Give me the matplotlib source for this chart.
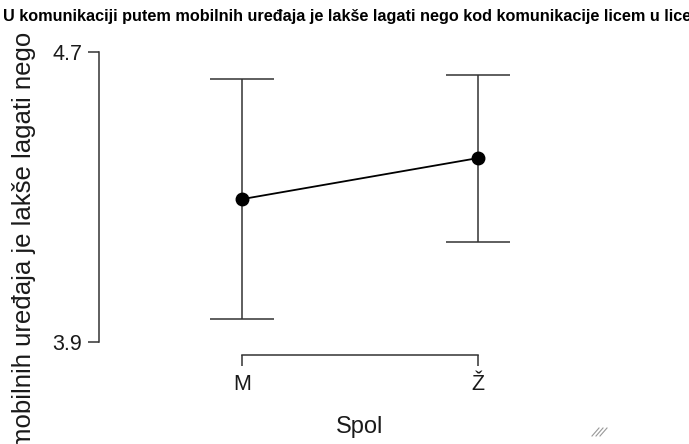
import matplotlib
matplotlib.use("Agg")
import matplotlib.pyplot as plt
from matplotlib.transforms import Bbox, TransformedBbox
from matplotlib.lines import Line2D

plt.rcParams['font.family'] = ['Liberation Sans', 'DejaVu Sans']

title = "U komunikaciji putem mobilnih uređaja je lakše lagati nego kod komunikacije licem u lice"
groups = ["M", "Ž"]
means = [4.293, 4.406]
ci_low = [3.962, 4.176]
ci_high = [4.624, 4.636]
yticks = [3.9, 4.7]

fig = plt.figure(figsize=(6.89, 4.44), dpi=100)
ax = fig.add_axes([99 / 689, 1 - 355 / 444, 521 / 689, 310 / 444])

x = list(range(len(groups)))
err = [[m - lo for m, lo in zip(means, ci_low)], [hi - m for m, hi in zip(means, ci_high)]]
ax.errorbar(x, means, yerr=err, fmt='none', ecolor='#333333', elinewidth=1.1,
            capsize=23, capthick=1.1)
ax.plot(x, means, color='black', lw=1.3, marker='o', markersize=9, zorder=3)

ax.set_xlim(-0.609, 1.605)
ax.set_ylim(3.863, 4.718)
ax.set_xticks(x)
ax.set_xticklabels(groups)
ax.set_yticks(yticks)
ax.set_yticklabels(["3.9", "4.7"])

for s in ['top', 'right']:
    ax.spines[s].set_visible(False)
ax.spines['left'].set_bounds(3.9, 4.7)
ax.spines['bottom'].set_bounds(0, 1)
for s in ['left', 'bottom']:
    ax.spines[s].set_color('#333333')
    ax.spines[s].set_linewidth(1.1)

ax.tick_params(axis='both', length=8, width=1.1, color='#333333', labelsize=15.5,
               labelcolor='#1a1a1a')
ax.tick_params(axis='y', pad=4)
ax.tick_params(axis='x', pad=6)

ax.set_xlabel("Spol", fontsize=17, color='#1a1a1a', labelpad=15)
ax.set_ylabel(title, fontsize=18.5, color='#1a1a1a')
ax.yaxis.set_label_coords(-0.12, 0.51)
lab = ax.yaxis.label
lab.set_clip_box(TransformedBbox(Bbox.from_bounds(0, 0, 1, 1 - 33 / 444), fig.transFigure))
lab.set_clip_on(True)

fig.text(3 / 689, 1 - 17 / 444, title, fontsize=11.7, fontweight='bold', ha='left',
         va='center', color='black')

# resize grip
for i in range(3):
    off = i * 4 / 689
    fig.add_artist(Line2D([592 / 689 + off, 599 / 689 + off],
                          [1 - 436 / 444, 1 - 428 / 444],
                          color='#999999', lw=0.8))

fig.savefig("out.png", dpi=100)
